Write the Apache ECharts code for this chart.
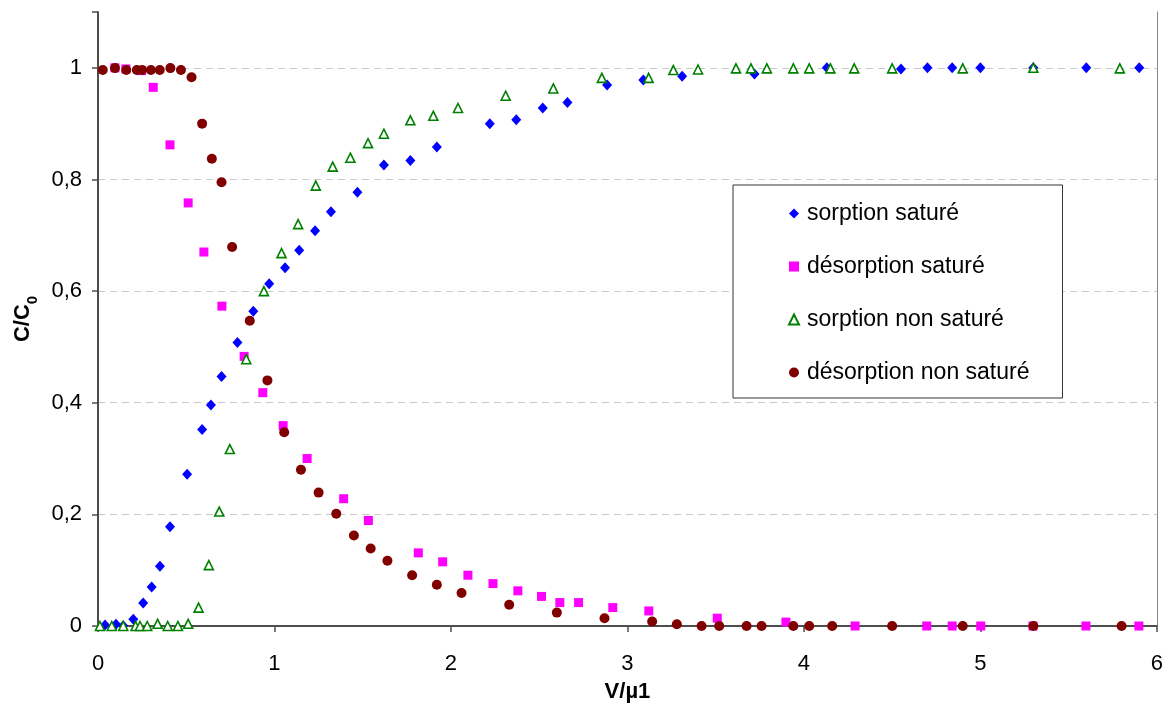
<!DOCTYPE html>
<html><head><meta charset="utf-8">
<script src="https://cdn.jsdelivr.net/npm/echarts@6/dist/echarts.min.js"></script>
<style>html,body{margin:0;padding:0;background:#fff}#c{width:1166px;height:709px}</style>
</head><body><div id="c"></div>
<script>
const seriesNames = ['sorption saturé', 'désorption saturé', 'sorption non saturé', 'désorption non saturé'];
const xTicks = [0, 1, 2, 3, 4, 5, 6];
const yTicks = [0, 0.2, 0.4, 0.6, 0.8, 1];

const sorpSatX = [0.040,0.102,0.143,0.200,0.256,0.304,0.351,0.408,0.505,0.59,0.64,0.70,0.79,0.88,0.97,1.06,1.14,1.23,1.32,1.47,1.62,1.77,1.92,2.22,2.37,2.52,2.66,2.885,3.09,3.31,3.72,4.13,4.55,4.70,4.84,5.00,5.30,5.60,5.90];
const sorpSatY = [0.002,0.003,0.0005,0.012,0.041,0.070,0.107,0.178,0.272,0.352,0.396,0.447,0.508,0.564,0.613,0.642,0.673,0.708,0.742,0.777,0.826,0.834,0.858,0.900,0.907,0.928,0.938,0.969,0.978,0.985,0.989,1.0,0.998,1.0,1.0,1.0,1.0,1.0,1.0];

const desSatX = [0.096,0.158,0.247,0.313,0.408,0.511,0.600,0.702,0.828,0.934,1.049,1.185,1.392,1.532,1.815,1.953,2.096,2.238,2.379,2.513,2.617,2.723,2.917,3.121,3.509,3.898,4.290,4.696,4.840,5.002,5.298,5.598,5.898];
const desSatY = [1.0,0.998,0.995,0.965,0.862,0.758,0.670,0.573,0.483,0.418,0.359,0.300,0.228,0.189,0.131,0.115,0.091,0.076,0.063,0.053,0.042,0.042,0.033,0.027,0.014,0.007,0,0,0,0,0,0,0];

const sorpNonX = [0.011,0.078,0.143,0.213,0.238,0.279,0.338,0.395,0.453,0.511,0.570,0.628,0.687,0.747,0.84,0.94,1.04,1.134,1.234,1.33,1.43,1.53,1.62,1.77,1.90,2.04,2.31,2.58,2.855,3.12,3.26,3.40,3.615,3.70,3.79,3.94,4.03,4.15,4.285,4.50,4.90,5.30,5.79];
const sorpNonY = [0,0,0,0,0,0,0.004,0,0,0.004,0.033,0.109,0.205,0.317,0.478,0.600,0.668,0.720,0.789,0.823,0.839,0.865,0.882,0.906,0.914,0.928,0.950,0.963,0.982,0.982,0.996,0.997,0.999,0.999,0.999,0.999,0.999,0.999,0.999,0.999,0.999,1.0,0.999];

const desNonX = [0.027,0.096,0.16,0.22,0.25,0.30,0.35,0.41,0.47,0.53,0.59,0.645,0.70,0.76,0.86,0.96,1.055,1.15,1.25,1.35,1.45,1.545,1.64,1.78,1.92,2.06,2.33,2.60,2.87,3.14,3.28,3.42,3.52,3.675,3.76,3.94,4.03,4.16,4.50,4.90,5.30,5.80];
const desNonY = [0.996,0.9995,0.996,0.996,0.996,0.996,0.996,0.9995,0.996,0.983,0.900,0.837,0.795,0.679,0.547,0.440,0.347,0.280,0.239,0.201,0.162,0.139,0.117,0.091,0.074,0.059,0.038,0.024,0.014,0.008,0.003,0,0,0,0,0,0,0,0,0,0,0];

const zip = (xs, ys) => xs.map((x, i) => [x, ys[i]]);
const FONT = '"Liberation Sans", Arial, sans-serif';

const chart = echarts.init(document.getElementById('c'), null, {renderer: 'canvas'});
chart.setOption({
  animation: false,
  backgroundColor: '#fff',
  textStyle: {fontFamily: FONT},
  grid: {left: 98, right: 8, top: 12, bottom: 83, containLabel: false},
  legend: {
    orient: 'vertical',
    left: 733, top: 185,
    padding: [17, 33, 14, 55],
    itemGap: 30,
    itemWidth: 10, itemHeight: 10,
    borderColor: '#333', borderWidth: 1,
    backgroundColor: '#fff',
    textStyle: {fontSize: 23, color: '#000', fontFamily: FONT, padding: [0, 0, 0, 3]},
    data: seriesNames
  },
  xAxis: {
    type: 'value', min: xTicks[0], max: xTicks[xTicks.length - 1], interval: 1,
    name: 'V/µ1', nameLocation: 'middle', nameGap: 55,
    nameTextStyle: {fontSize: 22, fontWeight: 'bold', color: '#000', fontFamily: FONT},
    axisLine: {onZero: false, lineStyle: {color: '#4d4d4d', width: 2}},
    axisTick: {show: true, inside: false, length: 6, lineStyle: {color: '#4d4d4d', width: 1.5}},
    axisLabel: {fontSize: 22, color: '#000', margin: 27, fontFamily: FONT},
    splitLine: {show: false}
  },
  yAxis: [{
    type: 'value', min: 0, max: 1.1, interval: 0.2,
    name: 'C/C{sub|0}', nameLocation: 'middle', nameGap: 64, nameRotate: 90,
    nameTextStyle: {fontSize: 22, fontWeight: 'bold', color: '#000', fontFamily: FONT,
      rich: {sub: {fontSize: 15, fontWeight: 'bold', color: '#000', verticalAlign: 'bottom', fontFamily: FONT, padding: [0, 0, -6, 0]}}},
    axisLine: {show: true, lineStyle: {color: '#4d4d4d', width: 2}},
    axisTick: {show: true, inside: false, length: 6, lineStyle: {color: '#4d4d4d', width: 1.5}},
    axisLabel: {fontSize: 22, color: '#000', margin: 16, fontFamily: FONT,
      formatter: v => (yTicks.some(t => Math.abs(t - v) < 1e-6) ? String(Math.round(v * 10) / 10).replace('.', ',') : '')},
    showMaxLabel: false,
    splitLine: {show: true, lineStyle: {color: ['#c8c8c8','#c8c8c8','#c8c8c8','#c8c8c8','#c8c8c8','#c8c8c8','rgba(0,0,0,0)'], type: [7, 5], width: 1}}
  }, {
    type: 'value', min: 0, max: 1.1, position: 'right',
    axisLine: {show: true, lineStyle: {color: '#888', width: 1}},
    axisTick: {show: false}, axisLabel: {show: false}, splitLine: {show: false}
  }],
  series: [
    {name: seriesNames[0], type: 'scatter', data: zip(sorpSatX, sorpSatY), symbol: 'diamond', symbolSize: [10, 11],
      itemStyle: {color: '#0000ff', opacity: 1}},
    {name: seriesNames[1], type: 'scatter', data: zip(desSatX, desSatY), symbol: 'rect', symbolSize: 9,
      itemStyle: {color: '#ff00ff', opacity: 1}},
    {name: seriesNames[2], type: 'scatter', data: zip(sorpNonX, sorpNonY), symbol: 'triangle', symbolSize: [9, 9],
      itemStyle: {color: '#ffffff', borderColor: '#008000', borderWidth: 1.6, opacity: 1}},
    {name: seriesNames[3], type: 'scatter', data: zip(desNonX, desNonY), symbol: 'circle', symbolSize: 10,
      itemStyle: {color: '#800000', opacity: 1}}
  ]
});
</script></body></html>
